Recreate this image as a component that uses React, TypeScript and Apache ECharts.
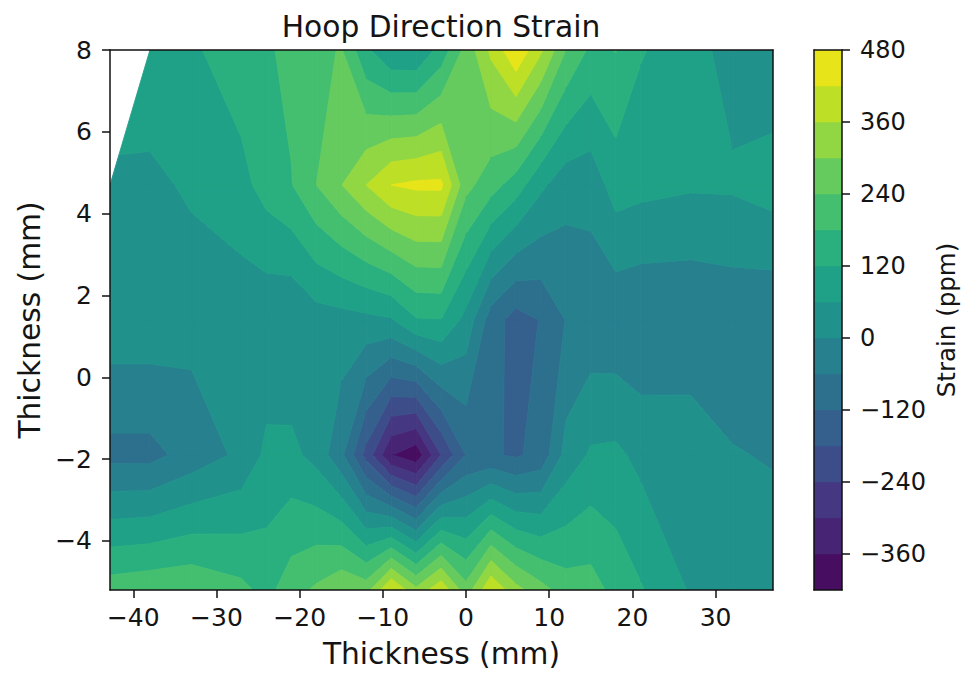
import React, { useEffect, useRef } from "react";
import * as echarts from "echarts";

// Measurement grid: columns (mm), rows (mm), strain (ppm) per row.
const xs = [-42.8, -38, -33, -27, -24, -21, -18, -15, -12, -9, -6, -3, 0, 3, 6, 9, 12, 15, 18, 21, 27, 32, 36.9];
const ys = [8, 4.7, 1.4, -1.9, -5.2];
const row8 = [null, 105, 110, 155, 172, 195, 220, 245, 130, 68, 63, 143, 260, 372, 471, 370, 240, 167, 182, 125, 83, 37, 17];
const row47 = [47, 45, 70, 101, 144, 177, 240, 298, 360, 420, 432, 432, 258, 205, 150, 72, 24, 23, 87, 77, 67, 68, 87];
const row14 = [38, 38, 21, 22, 15, 3, 32, 37, 44, 54, 115, 118, 40, -90, -146, -117, -58, -44, -48, -55, -54, -44, -51];
const rowM19 = [-79, -79, -36, 13, 73, 76, 39, -45, -200, -358, -400, -240, -118, -112, -128, -100, 20, 68, 72, 44, 43, 4, -5];
const rowM52 = [212, 224, 230, 196, 160, 214, 250, 290, 275, 425, 315, 405, 265, 415, 320, 262, 210, 206, 160, 125, 54, 30, 38];
const zRows: (number | null)[][] = [row8, row47, row14, rowM19, rowM52];

const levels = [-420, -360, -300, -240, -180, -120, -60, 0, 60, 120, 180, 240, 300, 360, 420, 480];
const bandColors = [
  "#470d60", "#482475", "#453781", "#3d4d8a", "#355f8d", "#2d708e", "#27808e", "#21918c",
  "#1fa187", "#2ab07f", "#44bf70", "#65cb5e", "#90d743", "#bddf26", "#e7e419",
];
const xTicks = [-40, -30, -20, -10, 0, 10, 20, 30];
const yTicks = [-4, -2, 0, 2, 4, 6, 8];
const barTicks = [-360, -240, -120, 0, 120, 240, 360, 480];

type P = [number, number, number];

function clipBand(poly: P[], lo: number, hi: number): P[] {
  const out: P[] = [];
  for (let i = 0; i < poly.length; i++) {
    const a = poly[i];
    const b = poly[(i + 1) % poly.length];
    if (a[2] >= lo && a[2] <= hi) out.push(a);
    const ls = a[2] < b[2] ? [lo, hi] : [hi, lo];
    for (const l of ls) {
      if ((a[2] < l && b[2] > l) || (a[2] > l && b[2] < l)) {
        const t = (l - a[2]) / (b[2] - a[2]);
        out.push([a[0] + t * (b[0] - a[0]), a[1] + t * (b[1] - a[1]), l]);
      }
    }
  }
  return out;
}

function cellPieces(i: number, j: number): P[][] {
  const raw: [number, number, number | null][] = [
    [xs[i], ys[j], zRows[j][i]],
    [xs[i + 1], ys[j], zRows[j][i + 1]],
    [xs[i + 1], ys[j + 1], zRows[j + 1][i + 1]],
    [xs[i], ys[j + 1], zRows[j + 1][i]],
  ];
  const valid = raw.filter((p) => p[2] !== null) as P[];
  if (valid.length < 4) return valid.length === 3 ? [valid] : [];
  const [a, b, c, d] = valid;
  const acLow = Math.min(a[2], c[2]);
  const acHigh = Math.max(a[2], c[2]);
  const bdLow = Math.min(b[2], d[2]);
  const bdHigh = Math.max(b[2], d[2]);
  const saddle = levels.some((l) => (acLow > l && bdHigh < l) || (acHigh < l && bdLow > l));
  if (!saddle) return [valid];
  const m: P = [(a[0] + c[0]) / 2, (a[1] + c[1]) / 2, (a[2] + b[2] + c[2] + d[2]) / 4];
  return [[a, b, m], [b, c, m], [c, d, m], [d, a, m]];
}

const cells: [number, number][] = [];
for (let j = 0; j < ys.length - 1; j++) for (let i = 0; i < xs.length - 1; i++) cells.push([i, j]);

const bands = bandColors.map((_, k) => [0, levels[k], 1, levels[k + 1]]);

const FONT = "DejaVu Sans";
const INK = "#141414";
const fmt = (v: number) => String(v).replace("-", "\u2212");

export default function App() {
  const ref = useRef<HTMLDivElement>(null);
  useEffect(() => {
    const chart = echarts.init(ref.current!, undefined, { renderer: "svg" });
    const frameLine = { show: true, onZero: false, lineStyle: { color: "#111", width: 1.5 } };
    const tick = { show: true, length: 8, lineStyle: { color: "#111", width: 1.5 } };
    const plain = {
      axisTick: { show: false }, axisLabel: { show: false }, splitLine: { show: false },
    };
    chart.setOption({
      animation: false,
      backgroundColor: "#fff",
      title: {
        text: "Hoop Direction Strain",
        left: 436, top: 6, textAlign: "center",
        textStyle: { fontFamily: FONT, fontSize: 29.7, fontWeight: "normal", color: INK },
      },
      grid: [
        { left: 110, top: 50, width: 663, height: 540 },
        { left: 814, top: 50, width: 28, height: 540 },
      ],
      xAxis: [
        {
          type: "value", gridIndex: 0, position: "bottom", min: xs[0], max: xs[xs.length - 1], z: 10,
          axisLine: frameLine, splitLine: { show: false },
          axisTick: { ...tick, customValues: xTicks },
          axisLabel: { customValues: xTicks, formatter: fmt, fontFamily: FONT, fontSize: 25, color: INK, margin: 15 },
          name: "Thickness (mm)", nameLocation: "middle", nameGap: 48,
          nameTextStyle: { fontFamily: FONT, fontSize: 29.7, color: INK },
        },
        { type: "value", gridIndex: 0, position: "top", min: xs[0], max: xs[xs.length - 1], z: 10, axisLine: frameLine, ...plain },
        { type: "value", gridIndex: 1, position: "bottom", min: 0, max: 1, z: 10, axisLine: frameLine, ...plain },
        { type: "value", gridIndex: 1, position: "top", min: 0, max: 1, z: 10, axisLine: frameLine, ...plain },
      ],
      yAxis: [
        {
          type: "value", gridIndex: 0, position: "left", min: ys[ys.length - 1], max: ys[0], z: 10,
          axisLine: frameLine, splitLine: { show: false },
          axisTick: { ...tick, customValues: yTicks },
          axisLabel: { customValues: yTicks, formatter: fmt, fontFamily: FONT, fontSize: 25, color: INK, margin: 18 },
          name: "Thickness (mm)", nameLocation: "middle", nameGap: 65, nameRotate: 90,
          nameTextStyle: { fontFamily: FONT, fontSize: 29.7, color: INK },
        },
        { type: "value", gridIndex: 0, position: "right", min: ys[ys.length - 1], max: ys[0], z: 10, axisLine: frameLine, ...plain },
        { type: "value", gridIndex: 1, position: "left", min: levels[0], max: levels[levels.length - 1], z: 10, axisLine: frameLine, ...plain },
        {
          type: "value", gridIndex: 1, position: "right", min: levels[0], max: levels[levels.length - 1], z: 10,
          axisLine: frameLine, splitLine: { show: false },
          axisTick: { ...tick, customValues: barTicks },
          axisLabel: { customValues: barTicks, formatter: fmt, fontFamily: FONT, fontSize: 24, color: INK, margin: 18 },
          name: "Strain (ppm)", nameLocation: "middle", nameGap: 92, nameRotate: 90,
          nameTextStyle: { fontFamily: FONT, fontSize: 24.5, color: INK },
        },
      ],
      series: [
        {
          type: "custom", xAxisIndex: 0, yAxisIndex: 0, clip: true, silent: true,
          data: cells.map(([i, j]) => [xs[i], ys[j]]),
          encode: { x: 0, y: 1 },
          renderItem: (params: any, api: any) => {
            const [i, j] = cells[params.dataIndex];
            const children: any[] = [];
            for (const piece of cellPieces(i, j)) {
              bandColors.forEach((color, k) => {
                const poly = clipBand(piece, levels[k], levels[k + 1]);
                if (poly.length >= 3) {
                  children.push({
                    type: "polygon",
                    shape: { points: poly.map((p) => api.coord([p[0], p[1]])) },
                    style: { fill: color, stroke: color, lineWidth: 0.9 },
                  });
                }
              });
            }
            return { type: "group", children };
          },
        },
        {
          type: "custom", xAxisIndex: 2, yAxisIndex: 2, clip: true, silent: true,
          data: bands,
          encode: { x: [0, 2], y: [1, 3] },
          renderItem: (params: any, api: any) => {
            const p0 = api.coord([api.value(0), api.value(1)]);
            const p1 = api.coord([api.value(2), api.value(3)]);
            const color = bandColors[params.dataIndex];
            return {
              type: "rect",
              shape: { x: p0[0], y: p1[1], width: p1[0] - p0[0], height: p0[1] - p1[1] },
              style: { fill: color, stroke: color, lineWidth: 0.5 },
            };
          },
        },
      ],
    });
    return () => chart.dispose();
  }, []);
  return <div ref={ref} style={{ position: "absolute", left: 0, top: 0, width: 964, height: 675 }} />;
}
